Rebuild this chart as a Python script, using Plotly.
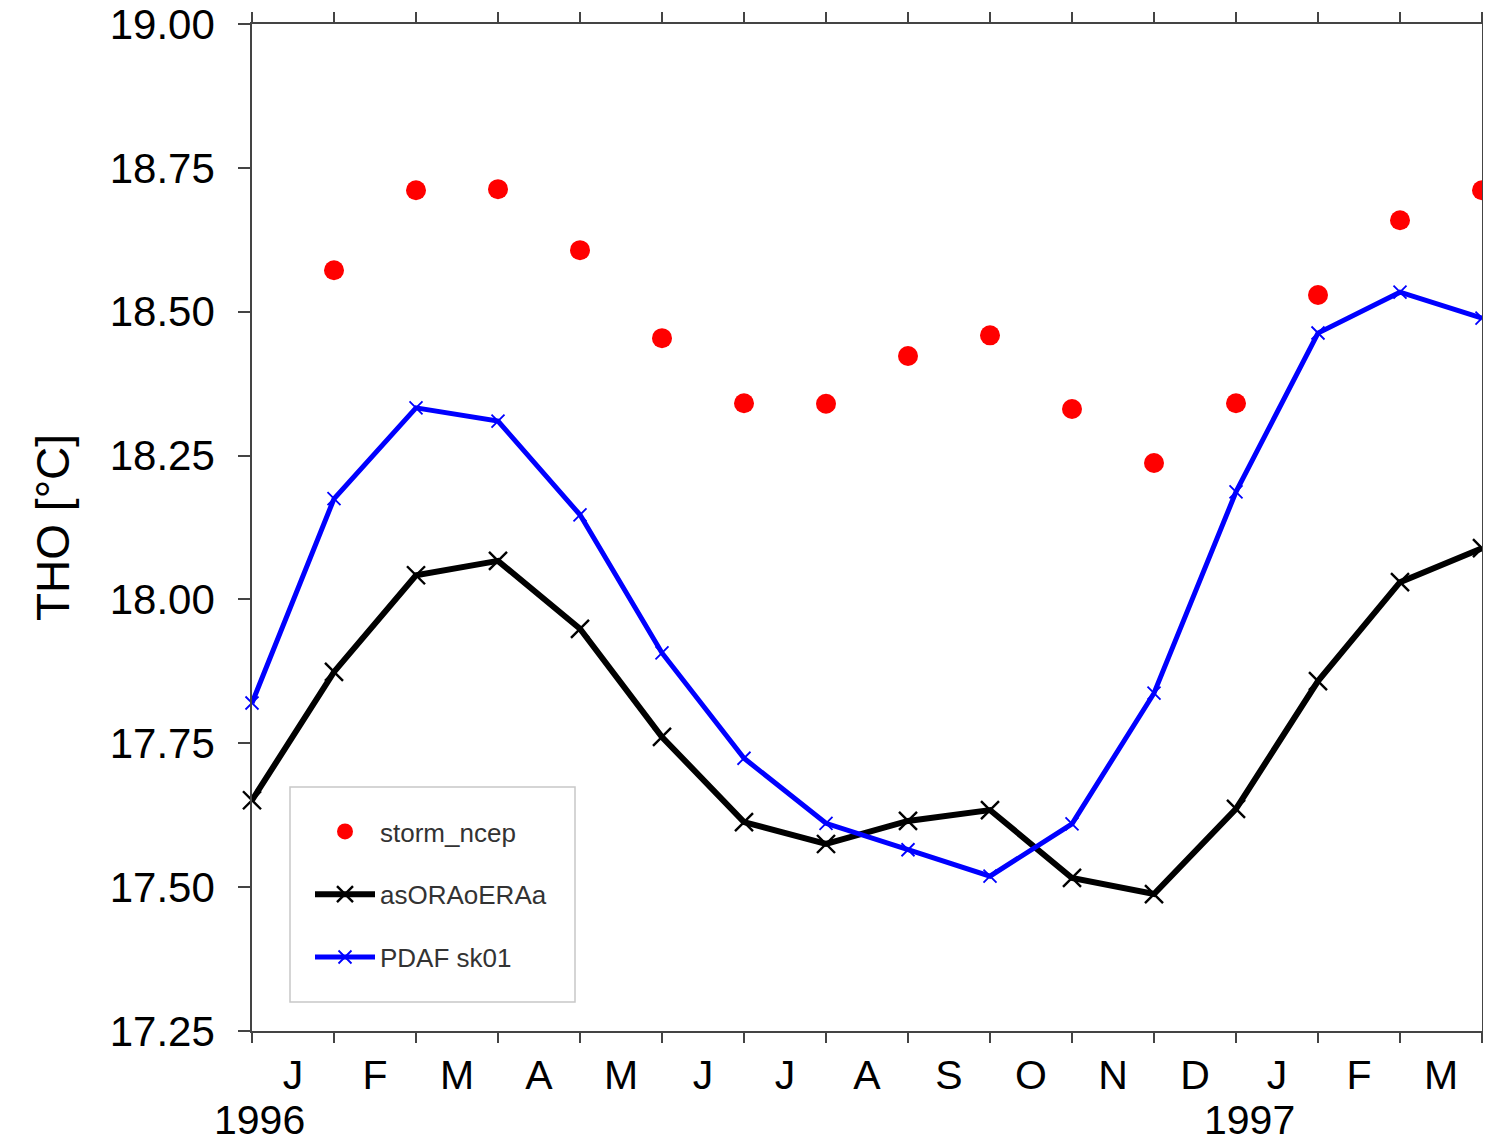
import plotly.graph_objects as go

# month index: 0 = start of Jan 1996 ... 15 = start of Apr 1997
x_model = list(range(16))
x_obs = list(range(1, 16))

storm_ncep = [18.572, 18.711, 18.713, 18.607, 18.454, 18.341, 18.340, 18.423,
              18.459, 18.331, 18.237, 18.341, 18.529, 18.659, 18.711]
asORAoERAa = [17.651, 17.874, 18.042, 18.067, 17.949, 17.761, 17.613, 17.575,
              17.615, 17.634, 17.516, 17.488, 17.636, 17.858, 18.030, 18.089]
pdaf_sk01 = [17.820, 18.175, 18.333, 18.310, 18.147, 17.907, 17.724, 17.611,
             17.565, 17.519, 17.610, 17.837, 18.187, 18.463, 18.534, 18.489]

month_labels = ["J", "F", "M", "A", "M", "J", "J", "A", "S", "O", "N", "D", "J", "F", "M"]
month_pos = [i + 0.5 for i in range(15)]
year_labels = ["1996", "1997"]
year_pos = [0.09, 12.16]
y_ticks = [17.25, 17.50, 17.75, 18.00, 18.25, 18.50, 18.75, 19.00]

FONT = "Liberation Sans, Arial, sans-serif"
AX = "#444444"

fig = go.Figure()
fig.add_trace(go.Scatter(
    x=x_obs, y=storm_ncep, mode="markers", name="storm_ncep",
    marker=dict(color="#ff0000", size=20, line=dict(width=0)),
    cliponaxis=False, legendgroup="a"))
fig.add_trace(go.Scatter(
    x=x_model, y=asORAoERAa, mode="lines+markers", name="asORAoERAa",
    line=dict(color="black", width=6),
    marker=dict(symbol="x-thin", size=18, color="black", line=dict(width=2.4, color="black")),
    cliponaxis=False, legendgroup="b"))
fig.add_trace(go.Scatter(
    x=x_model, y=pdaf_sk01, mode="lines+markers", name="PDAF sk01",
    line=dict(color="#0000ff", width=5),
    marker=dict(symbol="x-thin", size=13, color="#0000ff", line=dict(width=1.8, color="#0000ff")),
    cliponaxis=False, legendgroup="c"))

for lab, pos in zip(year_labels, year_pos):
    fig.add_annotation(x=pos, y=0, xref="x", yref="paper", text=lab,
                       showarrow=False, yanchor="top", yshift=-64,
                       font=dict(family=FONT, size=41, color="black"))

# legend frame
fig.add_shape(type="rect", xref="paper", yref="paper",
              x0=(290 - 252) / 1230, x1=(575 - 252) / 1230,
              y0=(1031 - 1002) / 1007, y1=(1031 - 787) / 1007,
              line=dict(color="#c8c8c8", width=1.5), fillcolor="white", layer="below")

# page body has an 8px margin, so the figure is shifted by 8px right and down
fig.update_layout(
    width=1483, height=1135,
    margin=dict(l=244, r=9, t=16, b=112),
    paper_bgcolor="white", plot_bgcolor="white",
    font=dict(family=FONT, color="black"),
    showlegend=True,
    legend=dict(x=(310 - 252) / 1230, y=(1031 - 808) / 1007, xanchor="left", yanchor="top",
                bgcolor="rgba(0,0,0,0)", borderwidth=0, itemwidth=60,
                tracegroupgap=26, font=dict(family=FONT, size=26, color="#333333")),
    xaxis=dict(range=[0, 15], tickmode="array", tickvals=month_pos, ticktext=month_labels,
               ticks="", ticklen=0, showgrid=False, zeroline=False, automargin=False,
               showline=True, linecolor=AX, linewidth=1.5, mirror="ticks",
               tickfont=dict(family=FONT, size=41, color="black"),
               ticklabelstandoff=7, ticklabeloverflow="allow",
               minor=dict(tickmode="array", tickvals=x_model, ticks="outside", ticklen=10,
                          tickcolor=AX, tickwidth=1.5, showgrid=False)),
    yaxis=dict(range=[17.25, 19.0], tickmode="array", tickvals=y_ticks,
               ticktext=[f"{v:.2f}" for v in y_ticks],
               ticks="outside", ticklen=12, tickcolor=AX, tickwidth=1.5, automargin=False,
               showgrid=False, zeroline=False, showline=True, linecolor=AX, linewidth=1.5,
               mirror="ticks", tickfont=dict(family=FONT, size=42, color="black"),
               ticklabelstandoff=15, ticklabeloverflow="allow",
               title=dict(text="THO [°C]", font=dict(family=FONT, size=46, color="black"),
                          standoff=26)),
)

fig.write_html("out.html")
